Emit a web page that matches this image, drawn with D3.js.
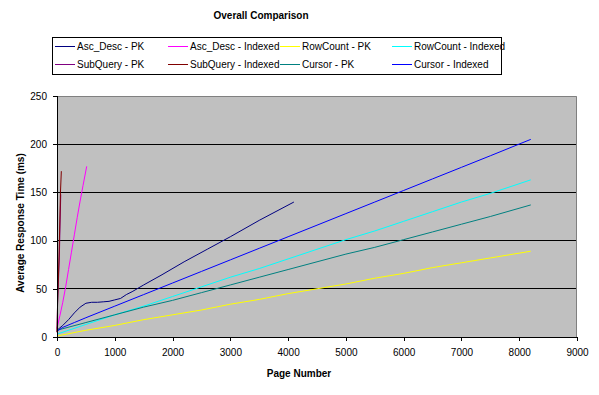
<!DOCTYPE html>
<html>
<head>
<meta charset="utf-8">
<script src="https://cdn.jsdelivr.net/npm/d3@7"></script>
<style>
  body { margin: 0; background: #fff; }
  svg text { font-family: "Liberation Sans", Arial, sans-serif; font-size: 10px; fill: #000; }
  .axis path, .axis line { stroke: #000; shape-rendering: crispEdges; }
  .axis .domain { display: none; }
</style>
</head>
<body>
<main></main>
<script>
const w = 599;
const h = 395;

// series: [page number, avg response time ms]
const ascDescPK = [[0, 7], [100, 12], [200, 18], [300, 25], [400, 31], [500, 35], [600, 36], [700, 36],
  [800, 36.5], [900, 37], [1000, 38.5], [1100, 40], [1200, 44], [1300, 47], [1500, 54], [1800, 64],
  [2200, 78], [2600, 91], [3000, 104], [3500, 121], [4100, 140]];
const ascDescIdx = [[0, 9], [50, 22], [100, 36], [150, 52], [200, 70], [250, 88], [300, 106],
  [350, 124], [400, 141], [450, 157], [514, 177]];
const rowCountPK = [[0, 1], [500, 7], [1000, 12], [1500, 18], [2000, 23], [2500, 28], [3000, 34],
  [3500, 39], [4000, 45], [4500, 50], [5000, 55], [5500, 61], [6000, 66], [6500, 72], [7000, 77],
  [7500, 82], [8200, 89]];
const rowCountIdx = [[0, 3], [500, 13], [1000, 23], [1500, 32], [2000, 42], [2500, 52], [3000, 62],
  [3500, 71], [4000, 81], [4500, 91], [5000, 101], [5500, 110], [6000, 120], [6500, 130], [7000, 140],
  [7500, 149], [8200, 163]];
const subQueryPK = [[0, 5], [10, 34], [40, 82], [65, 148]];
const subQueryIdx = [[0, 5], [5, 17], [10, 35], [35, 83], [60, 150], [75, 172]];
const cursorPK = [[0, 7], [500, 15], [1000, 23], [1500, 31], [2000, 38], [2500, 46], [3000, 54],
  [3500, 62], [4000, 70], [4500, 78], [5000, 86], [5500, 93], [6000, 101], [6500, 109], [7000, 117],
  [7500, 125], [8200, 137]];
const cursorIdx = [[0, 6], [100, 10], [300, 15], [500, 20], [1000, 32], [1500, 44], [2000, 56],
  [2500, 68], [3000, 80], [3500, 92], [4000, 104], [4500, 116], [5000, 128], [5500, 140], [6000, 152],
  [6500, 164], [7000, 176], [7500, 188], [8200, 205]];

const seriesNames = ['Asc_Desc - PK', 'Asc_Desc - Indexed', 'RowCount - PK', 'RowCount - Indexed',
  'SubQuery - PK', 'SubQuery - Indexed', 'Cursor - PK', 'Cursor - Indexed'];
const seriesData = [ascDescPK, ascDescIdx, rowCountPK, rowCountIdx, subQueryPK, subQueryIdx, cursorPK, cursorIdx];
const seriesColors = ['#000080', '#FF00FF', '#FFFF00', '#00FFFF', '#800080', '#800000', '#008080', '#0000FF'];

const xTicks = d3.range(0, 9001, 1000);
const yTicks = d3.range(0, 251, 50);

const series = seriesNames.map((name, i) => ({ name, color: seriesColors[i], values: seriesData[i] }));

const plot = { left: 57, right: 577, top: 96, bottom: 337 };

const xScale = d3.scaleLinear().domain([0, 9000]).range([plot.left, plot.right]);
const yScale = d3.scaleLinear().domain([0, 250]).range([plot.bottom, plot.top]);

const svg = d3.select('main').append('svg').attr('width', w).attr('height', h);

svg.append('rect')
  .attr('x', plot.left).attr('y', plot.top)
  .attr('width', plot.right - plot.left).attr('height', plot.bottom - plot.top)
  .attr('fill', '#C0C0C0');

// gridlines
svg.append('g')
  .selectAll('line')
  .data(yTicks.filter(d => d > 0 && d < 250))
  .enter()
  .append('line')
  .attr('x1', plot.left).attr('x2', plot.right)
  .attr('y1', d => yScale(d)).attr('y2', d => yScale(d))
  .attr('stroke', '#000')
  .attr('shape-rendering', 'crispEdges');

// top and right border
svg.append('path')
  .attr('d', `M${plot.left},${plot.top + 0.5}H${plot.right - 0.5}V${plot.bottom}`)
  .attr('fill', 'none')
  .attr('stroke', '#808080');

const line = d3.line().x(d => xScale(d[0])).y(d => yScale(d[1]));

svg.append('g')
  .selectAll('path')
  .data(series)
  .enter()
  .append('path')
  .attr('d', d => line(d.values))
  .attr('fill', 'none')
  .attr('stroke', d => d.color)
  .attr('stroke-width', 1);

const xAxis = d3.axisBottom(xScale).tickValues(xTicks).tickSize(4).tickPadding(8).tickFormat(d3.format('d'));
const yAxis = d3.axisLeft(yScale).tickValues(yTicks).tickSize(4).tickPadding(6);

svg.append('g')
  .attr('class', 'axis')
  .attr('transform', `translate(0,${plot.bottom})`)
  .call(xAxis);

svg.append('g')
  .attr('class', 'axis')
  .attr('transform', `translate(${plot.left},0)`)
  .call(yAxis);

// axis lines
svg.append('line')
  .attr('x1', plot.left).attr('x2', plot.right)
  .attr('y1', plot.bottom).attr('y2', plot.bottom)
  .attr('stroke', '#000').attr('shape-rendering', 'crispEdges');
svg.append('line')
  .attr('x1', plot.left).attr('x2', plot.left)
  .attr('y1', plot.top).attr('y2', plot.bottom)
  .attr('stroke', '#000').attr('shape-rendering', 'crispEdges');

svg.selectAll('.axis text').style('font-size', '10px');

// titles
svg.append('text')
  .attr('x', 261).attr('y', 19)
  .attr('text-anchor', 'middle')
  .style('font-weight', 'bold')
  .text('Overall Comparison');

svg.append('text')
  .attr('x', 299).attr('y', 377)
  .attr('text-anchor', 'middle')
  .style('font-weight', 'bold')
  .text('Page Number');

svg.append('text')
  .attr('transform', 'translate(24,223) rotate(-90)')
  .attr('text-anchor', 'middle')
  .style('font-weight', 'bold')
  .text('Average Response Time (ms)');

// legend
const legend = svg.append('g');
legend.append('rect')
  .attr('x', 52.5).attr('y', 37.5)
  .attr('width', 449).attr('height', 37)
  .attr('fill', '#fff')
  .attr('stroke', '#000');

const colX = [55, 168, 280, 392];
const rowY = [46, 64];

const item = legend.selectAll('g.item')
  .data(series)
  .enter()
  .append('g')
  .attr('class', 'item')
  .attr('transform', (d, i) => `translate(${colX[i % 4]},${rowY[Math.floor(i / 4)]})`);

item.append('line')
  .attr('x1', 0).attr('x2', 20)
  .attr('y1', 0.5).attr('y2', 0.5)
  .attr('stroke', d => d.color);

item.append('text')
  .attr('x', 22).attr('y', 4)
  .text(d => d.name);
</script>
</body>
</html>
